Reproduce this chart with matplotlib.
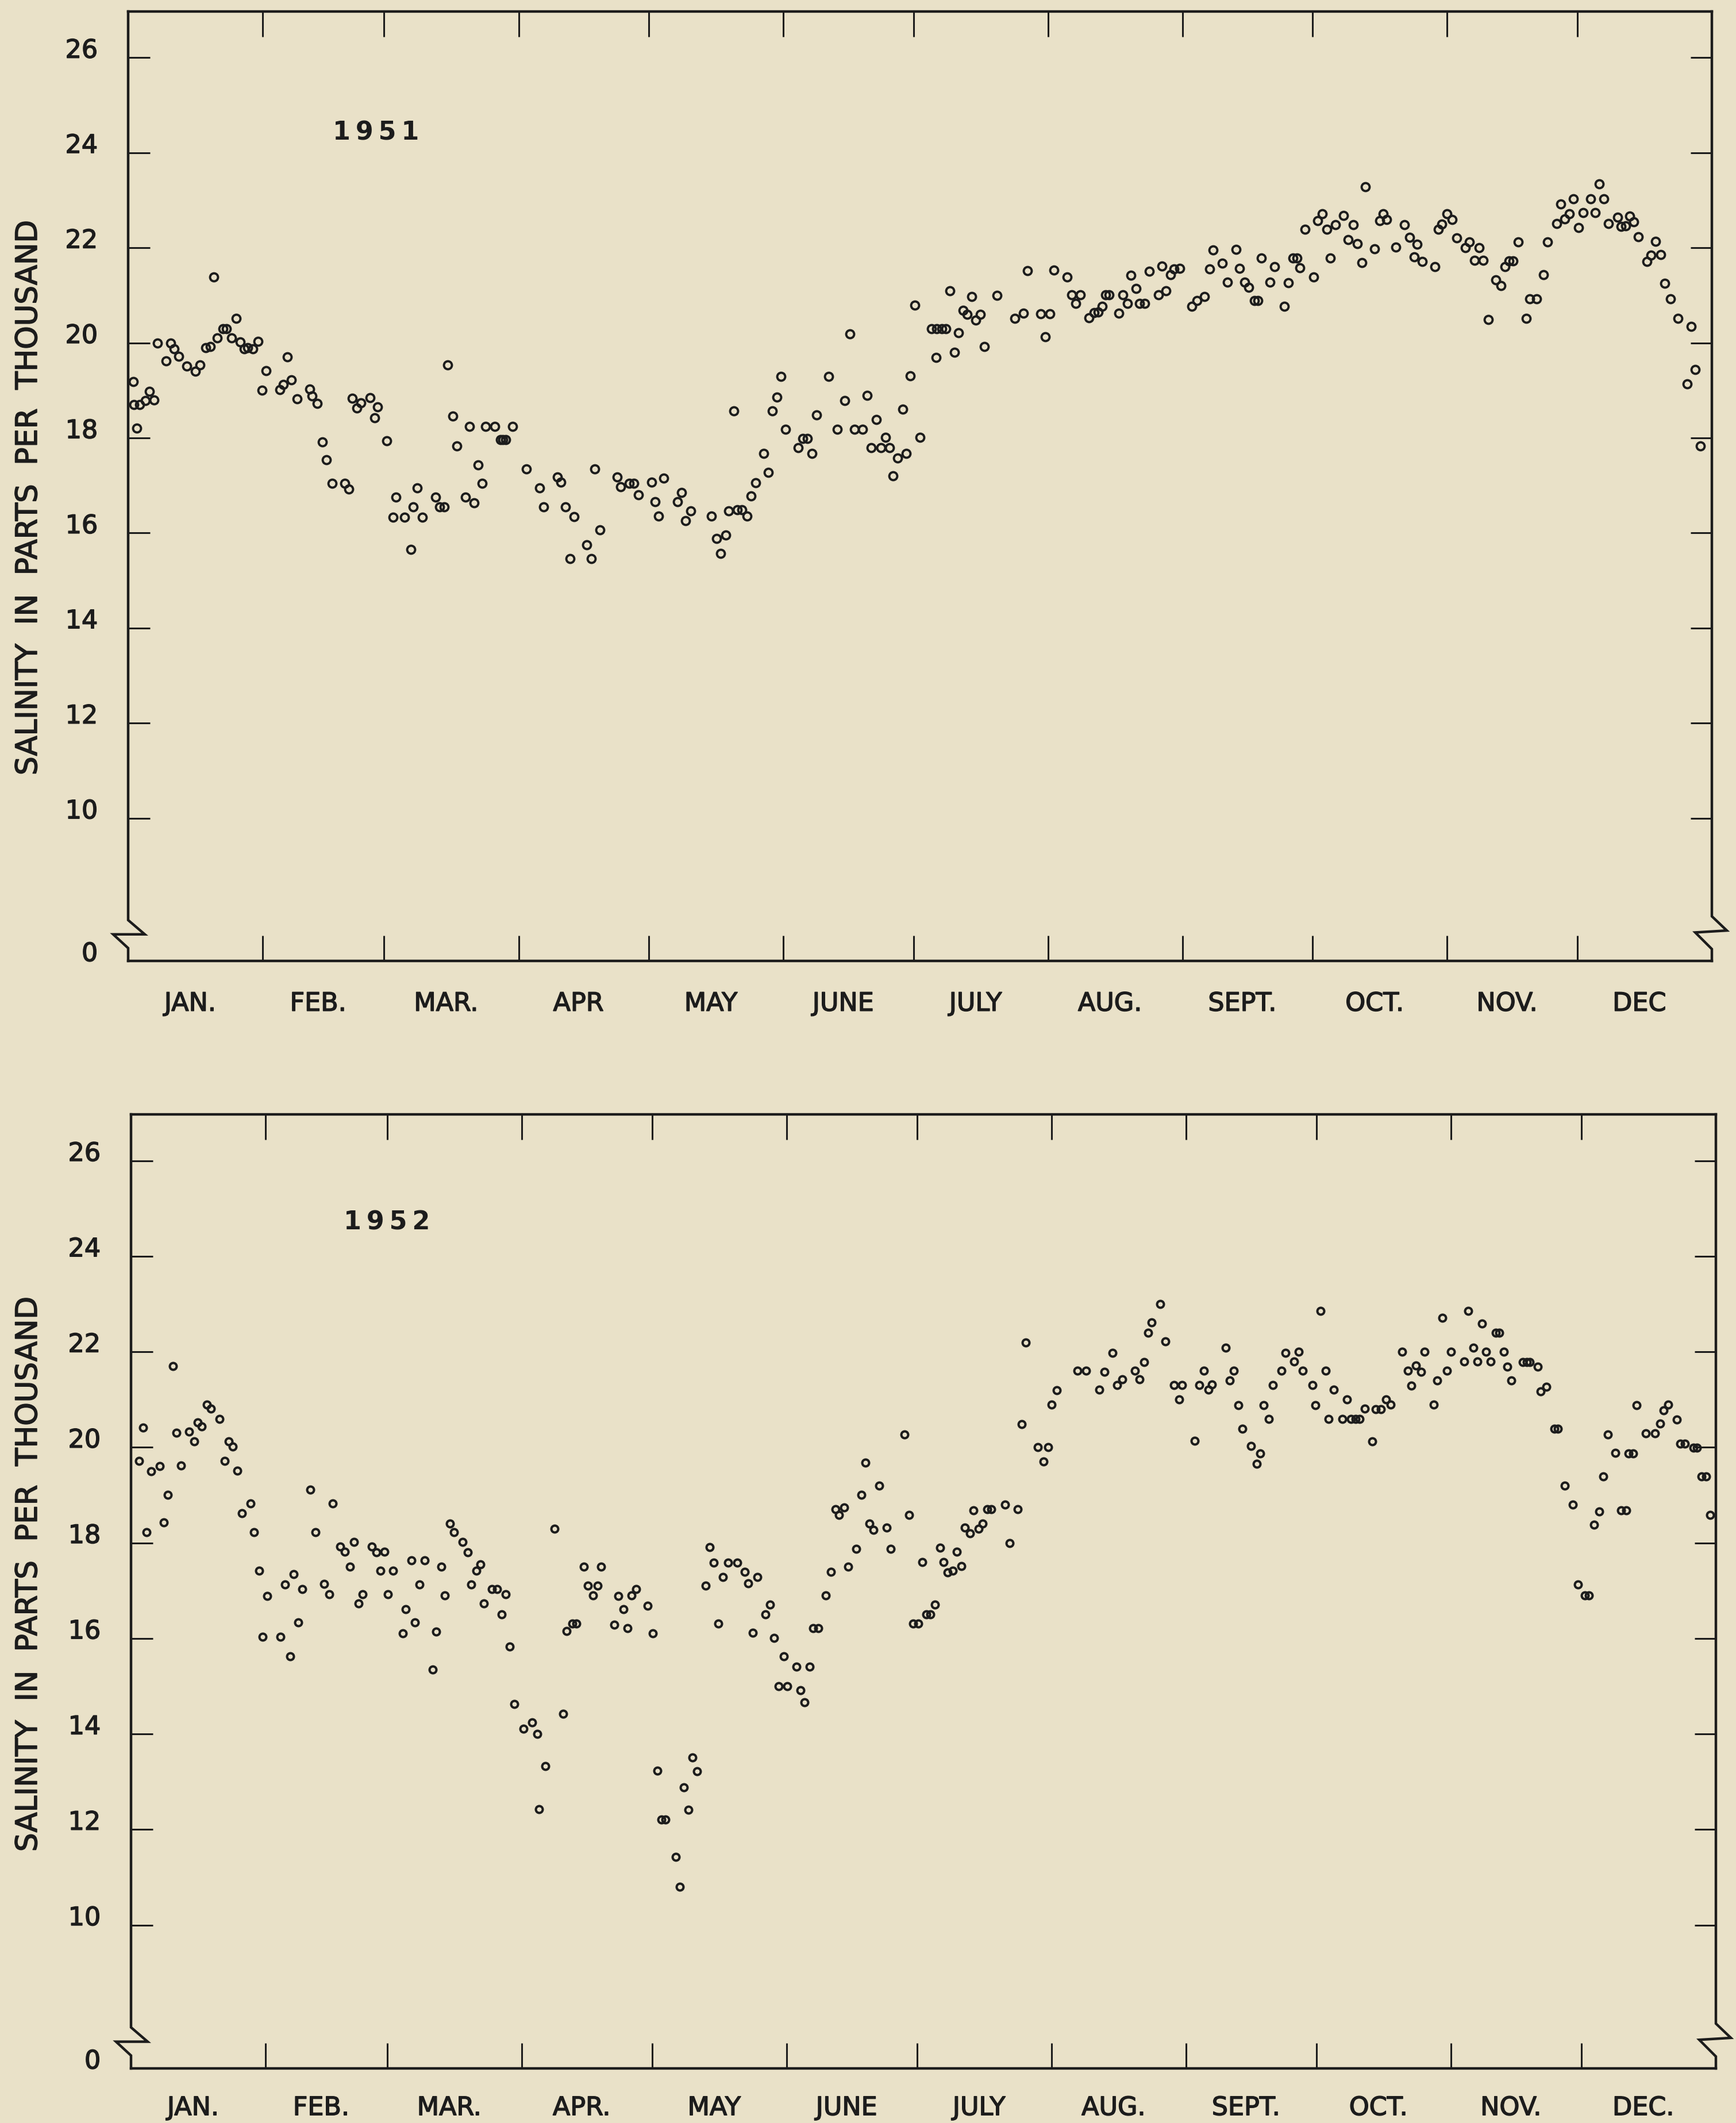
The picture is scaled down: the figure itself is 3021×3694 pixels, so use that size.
import matplotlib
matplotlib.use("Agg")
import matplotlib.pyplot as plt
from matplotlib.lines import Line2D
from matplotlib.transforms import ScaledTranslation
import matplotlib.patheffects as pe

# ---------------- data (day of year, salinity in parts per thousand) ----------------
days_1951 = [1.2, 1.3, 2.0, 2.7, 4.0, 4.9, 5.9, 6.8, 8.7, 9.8, 10.6, 11.6, 13.5, 15.5, 16.5, 17.9, 18.9,
             19.7, 20.5, 21.8, 22.6, 23.8, 24.9, 25.8, 26.7, 27.5, 28.8, 29.9, 30.9, 31.8, 34.9, 35.7,
             36.7, 37.6, 38.9, 41.8, 42.4, 43.6, 44.8, 45.7, 47.0, 49.9, 50.8, 51.7, 52.7, 53.6, 55.7,
             56.8, 57.5, 59.6, 61.0, 61.7, 63.7, 65.1, 65.7, 66.6, 67.8, 70.8, 71.8, 72.8, 73.6, 74.8,
             75.7, 77.8, 78.7, 79.7, 80.7, 81.6, 82.4, 84.5, 85.8, 86.4, 87.0, 88.6, 91.8, 94.8, 95.7,
             98.9, 99.7, 100.8, 101.8, 102.8, 105.7, 106.8, 107.5, 108.7, 112.7, 113.5, 115.5, 116.6,
             117.6, 120.6, 121.5, 122.2,
             123.4, 126.6, 127.6, 128.4, 129.6, 134.4, 135.6, 136.6, 137.7, 138.4, 139.6, 140.4, 141.4,
             142.7, 143.5, 144.6, 146.5, 147.5, 148.5, 149.5, 150.5, 151.5, 154.4, 155.5, 156.5, 157.6,
             158.6, 161.4, 163.4, 165.2, 166.3, 167.4, 169.3, 170.3, 171.3, 172.5, 173.5, 174.6, 175.5,
             176.3, 177.4, 178.5, 179.3, 180.3, 181.3, 182.5, 185.2, 186.2, 186.4, 187.5, 188.4, 189.4,
             190.4, 191.4, 192.4, 193.3, 194.4, 195.3, 196.4, 197.3, 200.3, 204.3, 206.3, 207.3, 210.3,
             211.4, 212.4, 213.4, 216.4, 217.4, 218.4, 219.4, 221.4, 222.6, 223.5, 224.5, 225.3, 226.1,
             228.3, 229.3, 230.3, 231.1, 232.3, 233.1, 234.3, 235.3, 237.5, 238.3, 239.2, 240.2, 241.0,
             242.4,
             245.2, 246.4, 248.0, 249.3, 250.1, 252.1, 253.3, 255.3, 256.1, 257.3, 258.3, 259.6, 260.4,
             261.2, 263.2, 264.2, 266.4, 267.4, 268.4, 269.4, 270.0, 271.2, 273.2, 274.2, 275.2, 276.3,
             277.1, 278.3, 280.1, 281.2, 282.3, 283.3, 284.3, 285.1, 287.3, 288.5, 289.3, 290.1, 292.2,
             294.2, 295.4, 296.4, 297.0, 298.2, 301.2, 302.0, 302.8, 304.0, 305.1, 306.2, 308.2, 309.1,
             310.3, 311.3, 312.3, 313.5, 315.2, 316.4, 317.3, 318.2, 319.2, 320.4, 322.2, 323.0, 324.6,
             326.2, 327.1, 329.2, 330.2, 331.1, 332.2, 333.1, 334.3, 335.3, 337.1, 338.1, 339.1, 340.1,
             341.1, 343.3, 344.1, 345.1, 346.0, 347.0, 348.0, 350.0, 351.0, 352.0, 353.2, 354.2, 355.4,
             357.2, 359.3, 360.2, 361.1, 362.3]
sal_1951 = [19.19, 18.70, 18.20, 18.70, 18.79, 18.98, 18.80, 20.00, 19.62, 20.00, 19.88, 19.72, 19.51,
            19.40, 19.53, 19.90, 19.92, 21.39, 20.10, 20.30, 20.30, 20.10, 20.52, 20.02, 19.88, 19.90,
            19.88, 20.03, 19.00, 19.41, 19.01, 19.13, 19.71, 19.22, 18.82, 19.03, 18.88, 18.72, 17.92,
            17.54, 17.04, 17.05, 16.93, 18.84, 18.63, 18.74, 18.85, 18.42, 18.65, 17.94, 16.33, 16.75,
            16.33, 15.65, 16.55, 16.95, 16.33, 16.75, 16.55, 16.55, 19.53, 18.46, 17.83, 16.76, 18.24,
            16.63, 17.43, 17.04, 18.24, 18.24, 17.96, 17.96, 17.96, 18.24, 17.35, 16.95, 16.55, 17.18,
            17.07, 16.55, 15.46, 16.34, 15.75, 15.46, 17.35, 16.07, 17.18, 16.97, 17.05, 17.05, 16.80,
            17.07, 16.66, 16.36,
            17.16, 16.66, 16.85, 16.26, 16.47, 16.36, 15.88, 15.57, 15.96, 16.47, 18.57, 16.49, 16.49,
            16.36, 16.78, 17.06, 17.68, 17.28, 18.57, 18.86, 19.29, 18.18, 17.79, 17.99, 17.99, 17.68,
            18.48, 19.29, 18.18, 18.79, 20.19, 18.18, 18.18, 18.90, 17.79, 18.39, 17.79, 18.01, 17.79,
            17.20, 17.58, 18.60, 17.68, 19.30, 20.79, 18.01, 20.30, 19.69, 20.30, 20.30, 20.30, 21.09,
            19.80, 20.21, 20.69, 20.60, 20.98, 20.48, 20.60, 19.92, 21.00, 20.51, 20.62, 21.52, 20.61,
            20.13, 20.61, 21.53, 21.39, 21.01, 20.83, 21.01, 20.53, 20.63, 20.65, 20.77, 21.01, 21.01,
            20.62, 21.01, 20.83, 21.42, 21.14, 20.83, 20.83, 21.51, 21.01, 21.62, 21.10, 21.43, 21.55,
            21.57,
            20.77, 20.89, 20.98, 21.56, 21.95, 21.67, 21.28, 21.96, 21.57, 21.28, 21.17, 20.89, 20.89,
            21.79, 21.28, 21.60, 20.77, 21.27, 21.78, 21.78, 21.58, 22.39, 21.39, 22.57, 22.71, 22.39,
            21.78, 22.48, 22.68, 22.17, 22.48, 22.09, 21.69, 23.28, 21.98, 22.57, 22.71, 22.60, 22.01,
            22.48, 22.22, 21.81, 22.08, 21.71, 21.60, 22.39, 22.50, 22.71, 22.60, 22.21, 22.00, 22.12,
            21.73, 22.00, 21.73, 20.49, 21.32, 21.20, 21.60, 21.72, 21.72, 22.12, 20.51, 20.92, 20.92,
            21.43, 22.12, 22.51, 22.92, 22.61, 22.71, 23.03, 22.43, 22.74, 23.03, 22.74, 23.34, 23.03,
            22.51, 22.64, 22.45, 22.46, 22.67, 22.55, 22.23, 21.71, 21.84, 22.14, 21.86, 21.25, 20.92,
            20.52, 19.14, 20.35, 19.44, 17.83]

days_1952 = [1.8, 2.8, 3.6, 4.6, 6.6, 7.6, 8.5, 9.7, 10.5, 11.5, 13.4, 14.5, 15.3, 16.3, 17.5, 18.4, 20.4,
             21.6, 22.5, 23.4, 24.5, 25.5, 27.5, 28.3, 29.5, 30.3, 31.4, 34.4, 35.5, 36.6, 37.5, 38.5,
             39.5, 41.3, 42.5, 44.5, 45.6, 46.4, 48.2, 49.2, 50.4, 51.4, 52.4, 53.4, 55.5, 56.5, 57.5,
             58.3, 59.2, 60.4, 62.6, 63.2, 64.6, 65.4, 66.5, 67.6, 69.5, 70.3, 71.5, 72.3, 73.4, 74.4,
             76.3, 77.6, 78.4, 79.6, 80.5, 81.2, 83.1, 84.3, 85.3, 86.3, 87.2, 88.3, 90.4, 92.4, 93.5,
             94.0, 95.4, 97.5, 99.5, 100.3, 101.7, 102.6, 104.3, 105.2, 106.4, 107.4, 108.2, 111.3,
             112.2, 113.4, 114.3, 115.3, 116.3, 119.0, 120.2, 121.2, 122.2,
             123.1, 125.4, 126.4, 127.3, 128.4, 129.3, 130.4, 132.3, 133.3, 134.2, 135.3, 136.3, 137.5,
             139.6, 141.4, 142.2, 143.2, 144.2, 146.1, 147.2, 148.1, 149.2, 150.4, 151.2, 153.3, 154.2,
             155.1, 156.3, 157.1, 158.3, 160.0, 161.2, 162.3, 163.1, 164.2, 165.2, 167.0, 168.2, 169.1,
             170.0, 171.0, 172.3, 174.0, 175.0, 178.1, 179.2, 180.1, 181.3, 182.3, 183.1, 184.1, 185.1,
             186.3, 187.1, 188.1, 189.2, 190.2, 191.2, 192.0, 193.2, 194.0, 195.2, 196.1, 197.2, 198.1,
             201.3, 202.3, 204.2, 205.1, 206.1, 208.8, 210.1, 211.2, 212.0, 213.2, 218.0, 220.0, 223.0,
             224.2, 226.1, 227.1, 228.3, 231.2, 232.3, 233.3, 234.2, 235.1, 237.0, 238.2, 240.2, 241.4,
             242.0,
             244.9, 246.0, 247.1, 248.1, 249.0, 252.1, 253.0, 254.0, 255.0, 256.0, 258.0, 259.2, 260.1,
             260.9, 262.1, 262.9, 264.9, 265.9, 267.8, 268.9, 269.9, 272.1, 272.8, 274.0, 275.1, 275.8,
             277.0, 279.0, 280.0, 281.0, 282.0, 282.9, 284.1, 285.9, 286.7, 287.9, 289.1, 290.1, 292.8,
             294.1, 294.9, 295.9, 297.1, 297.9, 300.0, 300.8, 302.0, 303.0, 304.0, 307.0, 307.9, 309.1,
             310.1, 311.1, 312.0, 313.1, 314.3, 315.1, 316.1, 316.9, 317.9, 320.5, 321.4, 322.1, 324.0,
             324.6, 326.0, 327.8, 328.6, 330.2, 332.0, 333.2, 334.8, 335.7, 337.0, 338.1, 339.1, 340.1,
             341.9, 343.1, 344.3, 344.9, 346.0, 346.7, 348.8, 351.0, 352.1, 352.9, 354.0, 356.0, 356.8,
             357.8, 359.8, 360.6, 361.7, 362.7, 363.7]
sal_1952 = [19.71, 20.41, 18.23, 19.50, 19.61, 18.43, 19.01, 21.70, 20.31, 19.62, 20.33, 20.13, 20.52,
            20.44, 20.90, 20.81, 20.60, 19.71, 20.12, 20.02, 19.51, 18.62, 18.82, 18.22, 17.42, 16.04,
            16.89, 16.04, 17.13, 15.62, 17.34, 16.33, 17.03, 19.12, 18.22, 17.14, 16.93, 18.83, 17.92,
            17.81, 17.50, 18.02, 16.73, 16.93, 17.92, 17.80, 17.42, 17.81, 16.92, 17.42, 16.11, 16.61,
            17.63, 16.33, 17.13, 17.63, 15.35, 16.14, 17.50, 16.90, 18.41, 18.23, 18.02, 17.80, 17.13,
            17.42, 17.55, 16.73, 17.03, 17.03, 16.50, 16.92, 15.83, 14.63, 14.11, 14.24, 14.00, 12.42,
            13.33, 18.30, 14.42, 16.15, 16.31, 16.31, 17.50, 17.11, 16.90, 17.11, 17.50, 16.29, 16.89,
            16.61, 16.21, 16.90, 17.03, 16.68, 16.11, 13.23, 12.21,
            12.21, 11.43, 10.80, 12.88, 12.41, 13.51, 13.22, 17.11, 17.91, 17.59, 16.31, 17.29, 17.59,
            17.59, 17.40, 17.15, 16.12, 17.29, 16.50, 16.71, 16.01, 15.00, 15.62, 15.00, 15.41, 14.91,
            14.66, 15.41, 16.21, 16.21, 16.90, 17.40, 18.70, 18.58, 18.74, 17.50, 17.88, 19.01, 19.68,
            18.41, 18.27, 19.20, 18.32, 17.88, 20.27, 18.59, 16.31, 16.31, 17.60, 16.50, 16.50, 16.71,
            17.90, 17.60, 17.38, 17.42, 17.81, 17.52, 18.32, 18.20, 18.68, 18.30, 18.41, 18.70, 18.70,
            18.80, 18.00, 18.70, 20.48, 22.19, 20.00, 19.70, 20.00, 20.90, 21.19, 21.61, 21.61, 21.21,
            21.58, 21.98, 21.30, 21.42, 21.61, 21.42, 21.79, 22.40, 22.61, 23.00, 22.22, 21.30, 21.00,
            21.30,
            20.14, 21.30, 21.61, 21.21, 21.31, 22.09, 21.40, 21.61, 20.88, 20.39, 20.03, 19.66, 19.87,
            20.88, 20.60, 21.30, 21.61, 21.98, 21.80, 22.00, 21.61, 21.30, 20.88, 22.86, 21.61, 20.60,
            21.21, 20.60, 21.00, 20.60, 20.60, 20.60, 20.81, 20.12, 20.80, 20.80, 21.00, 20.90, 22.00,
            21.61, 21.29, 21.71, 21.58, 22.00, 20.90, 21.40, 22.71, 21.61, 22.00, 21.80, 22.86, 22.09,
            21.80, 22.59, 22.00, 21.80, 22.40, 22.40, 22.00, 21.69, 21.40, 21.79, 21.79, 21.79, 21.69,
            21.17, 21.27, 20.39, 20.39, 19.20, 18.80, 17.13, 16.90, 16.90, 18.38, 18.66, 19.39, 20.27,
            19.89, 18.68, 18.68, 19.87, 19.87, 20.88, 20.29, 20.29, 20.50, 20.77, 20.90, 20.58, 20.08,
            20.08, 19.99, 19.99, 19.39, 19.39, 18.58]

month_edges = [0, 31, 59, 90, 120, 151, 181, 212, 243, 273, 304, 334, 365]
months_1951 = ["JAN.", "FEB.", "MAR.", "APR", "MAY", "JUNE", "JULY", "AUG.", "SEPT.", "OCT.", "NOV.", "DEC"]
months_1952 = ["JAN.", "FEB.", "MAR.", "APR.", "MAY", "JUNE", "JULY", "AUG.", "SEPT.", "OCT.", "NOV.", "DEC."]
y_tick_values = [7.0, 10, 12, 14, 16, 18, 20, 22, 24, 26]
y_tick_labels = ["0", "10", "12", "14", "16", "18", "20", "22", "24", "26"]
y_label = "SALINITY  IN  PARTS  PER  THOUSAND"

# ---------------- styling ----------------
BG = "#e9e1c8"
INK = "#1c1c1c"
W, H = 3021, 3694
DPI = 100
THICK = [pe.withStroke(linewidth=1.1, foreground=INK)]

plt.rcParams["font.family"] = ["DejaVu Sans"]
fig = plt.figure(figsize=(W / DPI, H / DPI), dpi=DPI, facecolor=BG)


def make_panel(rect, days, sal, months, year_text, year_xy, ms, mew, label_center_y, xpad):
    ax = fig.add_axes(rect)
    ax.set_facecolor(BG)
    ax.plot(days, sal, linestyle="none", marker="o", mfc="none", mec=INK, ms=ms, mew=mew, clip_on=False)
    ax.set_xlim(0, 365)
    ax.set_ylim(7.0, 26.97)

    for s in ["left", "right"]:
        ax.spines[s].set_visible(False)
    for s in ["top", "bottom"]:
        ax.spines[s].set_linewidth(3.2)
        ax.spines[s].set_color(INK)

    # broken vertical axes (zig-zag near the zero)
    dx = 0.0105
    left_path = [(0, 1), (0, 0.043), (dx, 0.028), (-dx * 0.9, 0.028), (0, 0.0135), (0, 0)]
    right_path = [(1, 1), (1, 0.047), (1 + dx * 0.9, 0.032), (1 - dx, 0.030), (1, 0.0125), (1, 0)]
    for path in (left_path, right_path):
        xs, ys = zip(*path)
        ax.add_line(Line2D(xs, ys, transform=ax.transAxes, color=INK, lw=3.2,
                           clip_on=False, solid_joinstyle="miter"))

    # month boundary ticks (inward, top and bottom)
    ax.set_xticks(month_edges[1:-1])
    ax.set_xticklabels([])
    ax.tick_params(axis="x", which="major", direction="in", length=32, width=2.2,
                   top=True, bottom=True, color=INK)
    centers = [(a + b) / 2.0 - 1.2 for a, b in zip(month_edges[:-1], month_edges[1:])]
    ax.set_xticks(centers, minor=True)
    ax.set_xticklabels(months, minor=True)
    ax.tick_params(axis="x", which="minor", length=0, pad=xpad, labelsize=32, labelcolor=INK)
    for lab in ax.get_xticklabels(minor=True):
        lab.set_path_effects(THICK)

    # salinity ticks (inward, left and right)
    ax.set_yticks(y_tick_values)
    ax.set_yticklabels(y_tick_labels)
    ax.tick_params(axis="y", which="major", direction="in", length=27, width=2.2,
                   left=True, right=True, pad=38, labelsize=32, labelcolor=INK, color=INK)
    ticks = ax.yaxis.get_major_ticks()
    ticks[0].tick1line.set_visible(False)
    ticks[0].tick2line.set_visible(False)
    off = ScaledTranslation(0, 12 / 72.0, fig.dpi_scale_trans)
    for t in ticks:
        t.label1.set_transform(t.label1.get_transform() + off)
        t.label1.set_path_effects(THICK)

    ax.text(year_xy[0], year_xy[1], year_text, fontsize=32, fontweight="bold", color=INK,
            ha="center", va="center")
    fig.text(50 / W, label_center_y, y_label, rotation=90, ha="center", va="center",
             fontsize=37, color=INK, path_effects=THICK)
    return ax


top_rect = [223 / W, 1 - 1672 / H, 2756 / W, 1652 / H]
bot_rect = [228 / W, 1 - 3599 / H, 2758 / W, 1660 / H]

make_panel(top_rect, days_1951, sal_1951, months_1951, "1\u20099\u20095\u20091", (57.1, 24.42),
           10.0, 2.8, 1 - 866 / H, 38)
make_panel(bot_rect, days_1952, sal_1952, months_1952, "1\u20099\u20095\u20092", (58.9, 24.71),
           8.6, 2.9, 1 - 2739 / H, 34)

fig.savefig("out.png", dpi=DPI, facecolor=BG)
